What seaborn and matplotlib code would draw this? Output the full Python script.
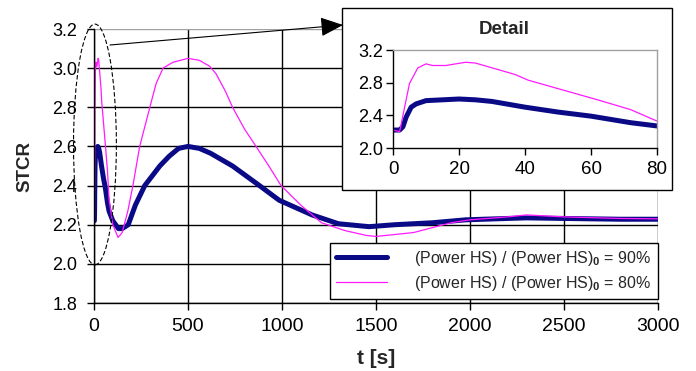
import matplotlib
matplotlib.use("Agg")
import matplotlib.pyplot as plt
import seaborn as sns
import numpy as np
import pandas as pd
from matplotlib.patches import Ellipse, Rectangle, FancyArrowPatch, ArrowStyle
from matplotlib.ticker import FormatStrFormatter

# ---- data ----
t_90 = [0, 2, 3, 4, 5.5, 7, 10, 15, 20, 25, 30, 40, 50, 60, 72, 80,
        100, 130, 150, 182, 220, 270, 350, 400, 450, 500, 560, 620, 737,
        880, 985, 1160, 1300, 1463, 1600, 1800, 1977, 2200, 2300, 2500, 2800, 3000]
stcr_90 = [2.22, 2.22, 2.26, 2.38, 2.50, 2.54, 2.58, 2.59, 2.60, 2.59, 2.57, 2.50, 2.44, 2.39, 2.31, 2.27,
           2.22, 2.18, 2.18, 2.20, 2.30, 2.40, 2.50, 2.55, 2.59, 2.60, 2.59, 2.565, 2.50,
           2.40, 2.325, 2.25, 2.205, 2.19, 2.20, 2.21, 2.225, 2.232, 2.235, 2.232, 2.228, 2.228]

t_80 = [0, 2, 5, 7.5, 10, 12, 16, 22, 25, 31, 37, 41, 51.5, 62, 72, 80,
        100, 128, 150, 180, 207, 243, 297, 330, 367, 420, 500, 560, 615, 650, 700,
        737, 800, 862, 930, 995, 1100, 1210, 1335, 1450, 1500, 1600, 1700, 1780,
        1900, 2000, 2200, 2300, 2500, 2800, 3000]
stcr_80 = [2.22, 2.20, 2.79, 2.98, 3.03, 3.01, 3.01, 3.05, 3.04, 2.97, 2.90, 2.83, 2.71, 2.59, 2.47, 2.33,
           2.20, 2.135, 2.16, 2.27, 2.40, 2.60, 2.80, 2.92, 3.00, 3.03, 3.05, 3.04, 3.01, 2.97, 2.88,
           2.80, 2.69, 2.60, 2.50, 2.40, 2.30, 2.21, 2.17, 2.145, 2.14, 2.15, 2.16, 2.18,
           2.21, 2.225, 2.24, 2.25, 2.24, 2.232, 2.23]

label_90 = r"(Power HS) / (Power HS)$_{\mathbf{0}}$ = 90%"
label_80 = r"(Power HS) / (Power HS)$_{\mathbf{0}}$ = 80%"

main_xticks = [0, 500, 1000, 1500, 2000, 2500, 3000]
main_yticks = [1.8, 2.0, 2.2, 2.4, 2.6, 2.8, 3.0, 3.2]
inset_xticks = [0, 20, 40, 60, 80]
inset_yticks = [2.0, 2.4, 2.8, 3.2]

df90 = pd.DataFrame({"t": t_90, "STCR": stcr_90})
df80 = pd.DataFrame({"t": t_80, "STCR": stcr_80})

# ---- style ----
sns.set_theme(style="white")
plt.rcParams["font.family"] = ["Liberation Sans", "DejaVu Sans"]
plt.rcParams["mathtext.fontset"] = "custom"
plt.rcParams["mathtext.rm"] = "Liberation Sans"
plt.rcParams["mathtext.bf"] = "Liberation Sans:bold"

BLUE = "#0a0a86"
MAG = "#ff1aff"

fig = plt.figure(figsize=(6.96, 3.71), dpi=100)
ax = fig.add_axes([94 / 696, 1 - 303 / 371, (658 - 94) / 696, (303 - 29) / 371])

sns.lineplot(data=df90, x="t", y="STCR", ax=ax, color=BLUE, lw=3.6,
             sort=False, estimator=None, label=label_90)
sns.lineplot(data=df80, x="t", y="STCR", ax=ax, color=MAG, lw=0.9,
             sort=False, estimator=None, label=label_80)

ax.set_xlim(0, 3000)
ax.set_ylim(1.8, 3.2)
ax.set_xticks(main_xticks)
ax.set_yticks(main_yticks)
ax.yaxis.set_major_formatter(FormatStrFormatter("%.1f"))
ax.grid(True, color="black", lw=1)
ax.set_axisbelow(True)
ax.get_ygridlines()[-1].set_color("#a0a0a0")
for s in ["top", "right"]:
    ax.spines[s].set_visible(False)
for s in ["left", "bottom"]:
    ax.spines[s].set_color("black")
    ax.spines[s].set_linewidth(1)
ax.tick_params(axis="x", direction="out", length=5, width=1, color="black",
               labelsize=14, labelcolor="black", bottom=True, pad=6)
ax.tick_params(axis="y", direction="out", length=5, width=1, color="black",
               labelsize=13, labelcolor="black", left=True, pad=7)
ax.set_xlabel("t [s]", fontsize=15, fontweight="bold")
ax.set_ylabel("STCR", fontsize=13.5, fontweight="bold")
ax.xaxis.set_label_coords(0.5, (303 - 358) / 274)
ax.xaxis.label.set_verticalalignment("center")
ax.yaxis.set_label_coords((25 - 94) / 564, 0.5)
ax.yaxis.label.set_verticalalignment("center")

leg = ax.legend(loc="lower right", bbox_to_anchor=(658 / 696, 1 - 299 / 371),
                bbox_transform=fig.transFigure, fontsize=11.5, frameon=True,
                fancybox=False, framealpha=1, edgecolor="black",
                handlelength=3.2, handletextpad=1.7, borderpad=0.4,
                labelspacing=0.35, borderaxespad=0)
leg.get_frame().set_linewidth(1)

# ellipse around the early transient
ell = Ellipse((5, 2.61), width=228, height=1.23, fill=False, edgecolor="black",
              lw=0.8, linestyle=(0, (4, 2)), clip_on=False, zorder=4)
ax.add_patch(ell)

# inset frame
box = Rectangle((342 / 696, 1 - 190 / 371), 330 / 696, 182 / 371,
                transform=fig.transFigure, facecolor="white", edgecolor="black",
                lw=1, zorder=1)
fig.add_artist(box)

arrow = FancyArrowPatch((110 / 696, 1 - 45 / 371), (343 / 696, 1 - 25 / 371),
                        transform=fig.transFigure,
                        arrowstyle=ArrowStyle("-|>", head_length=0.7, head_width=0.3),
                        mutation_scale=20, lw=0.8, color="black", zorder=3,
                        shrinkA=0, shrinkB=0)
fig.add_artist(arrow)

fig.text(504 / 696, 1 - 29 / 371, "Detail", ha="center", va="center",
         fontsize=13.5, fontweight="bold", zorder=3)

axi = fig.add_axes([393 / 696, 1 - 148 / 371, (657 - 393) / 696, (148 - 50) / 371], zorder=2)
sns.lineplot(data=df90, x="t", y="STCR", ax=axi, color=BLUE, lw=3.6,
             sort=False, estimator=None, legend=False)
sns.lineplot(data=df80, x="t", y="STCR", ax=axi, color=MAG, lw=0.9,
             sort=False, estimator=None, legend=False)
axi.set_xlim(0, 80)
axi.set_ylim(2.0, 3.2)
axi.set_xticks(inset_xticks)
axi.set_yticks(inset_yticks)
axi.yaxis.set_major_formatter(FormatStrFormatter("%.1f"))
axi.set_xlabel("")
axi.set_ylabel("")
axi.grid(False)
for s in ["left", "bottom"]:
    axi.spines[s].set_color("black")
    axi.spines[s].set_linewidth(1)
for s in ["top", "right"]:
    axi.spines[s].set_color("#a0a0a0")
    axi.spines[s].set_linewidth(1)
axi.tick_params(axis="x", direction="out", length=5, width=1, color="black",
                labelsize=13.5, labelcolor="black", bottom=True, pad=4)
axi.tick_params(axis="y", direction="out", length=5, width=1, color="black",
                labelsize=13, labelcolor="black", left=True, pad=2)

fig.savefig("out.png", dpi=100)
